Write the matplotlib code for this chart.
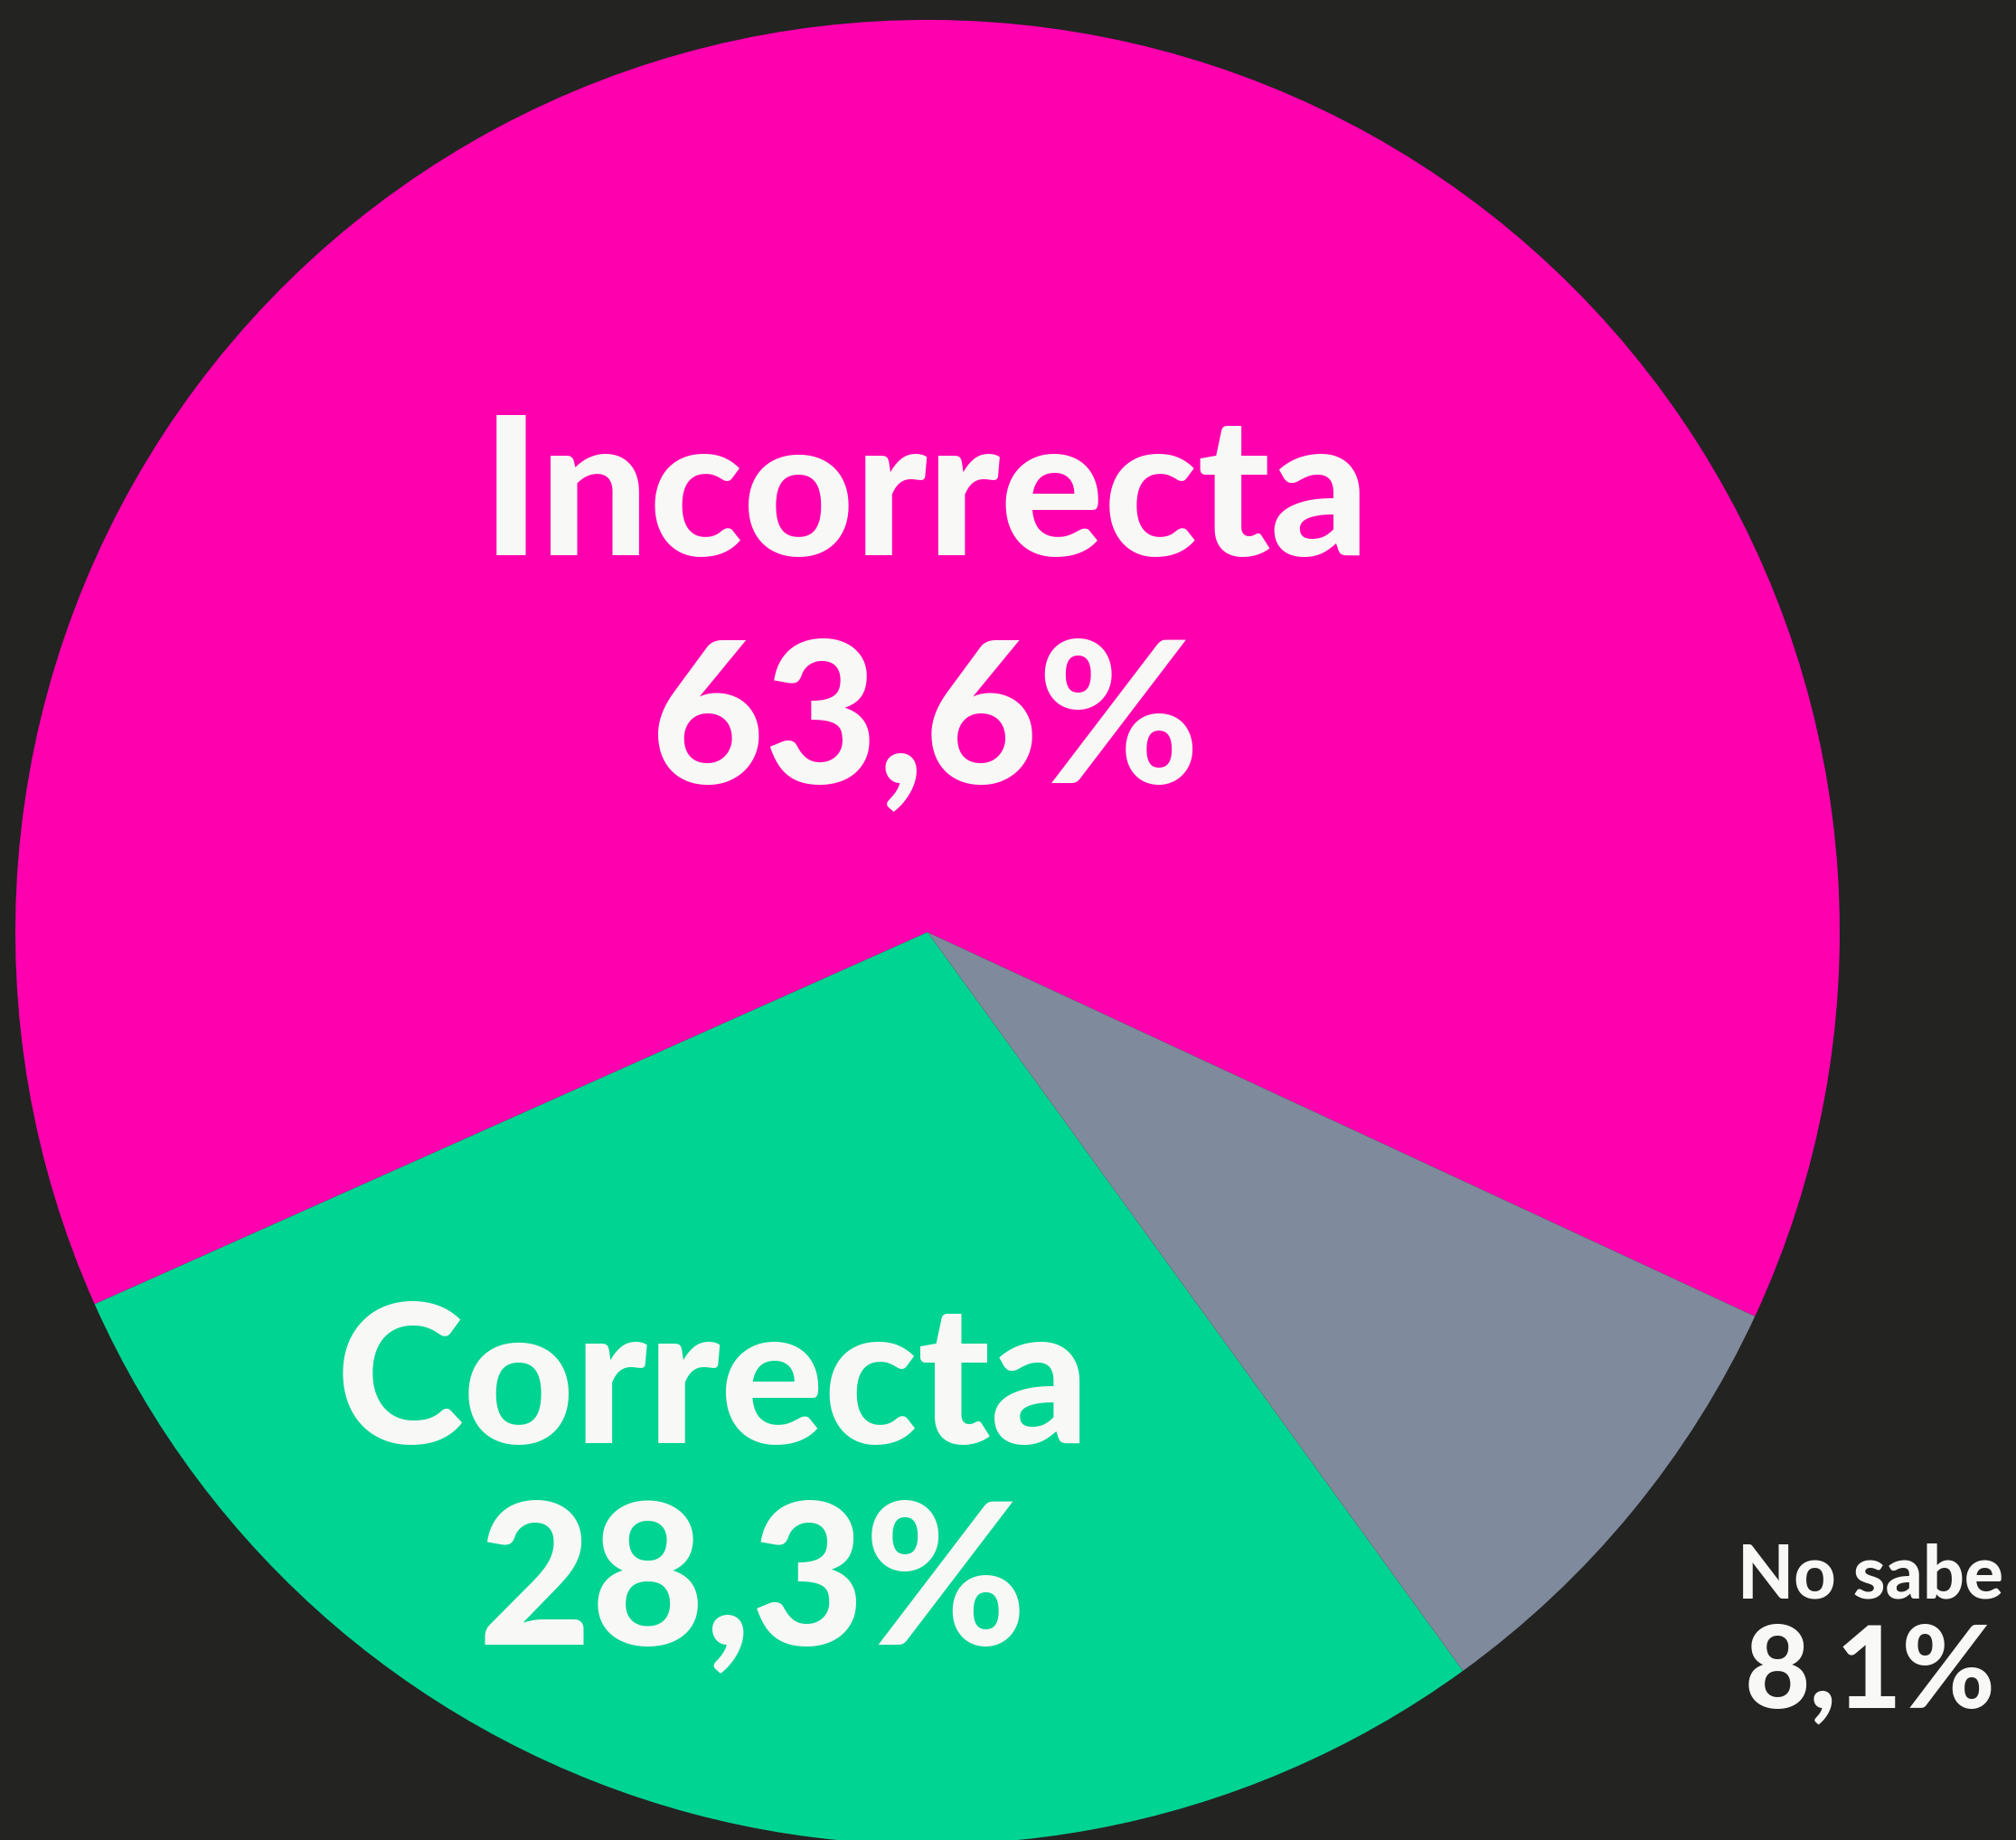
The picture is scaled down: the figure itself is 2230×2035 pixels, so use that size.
import matplotlib
matplotlib.use("Agg")
import matplotlib.pyplot as plt

categories = ["Incorrecta", "Correcta", "No sabe"]
values = [63.6, 28.3, 8.1]
value_labels = ["63,6%", "28,3%", "8,1%"]
colors = ["#FF00AF", "#00D492", "#7F8A9C"]

BG = "#232322"
TXT = "#F8F8F6"
W, H = 2230, 2035

fig = plt.figure(figsize=(W / 100, H / 100), dpi=100, facecolor=BG)
ax = fig.add_axes([0, 0, 1, 1])
ax.set_facecolor(BG)

cx, cy, r = 1026, H - 1031, 1009
ax.pie(values, colors=colors, startangle=-24.9, counterclock=True,
       center=(cx, cy), radius=r, wedgeprops=dict(linewidth=0), frame=True)
ax.set_xlim(0, W)
ax.set_ylim(0, H)
ax.set_aspect("equal")
ax.axis("off")

font = dict(family=["Lato", "DejaVu Sans"], weight="black", color=TXT,
            ha="center", va="baseline")
# label positions (pixel coords, top-origin)
pos = [((1024, 614), (1024, 865), 154),
       ((789, 1596), (832, 1818), 154),
       ((2069, 1768), (2069, 1889), 58)]
num_sizes = [156, 156, 90]
for cat, lab, (p1, p2, fs), nfs in zip(categories, value_labels, pos, num_sizes):
    ax.text(p1[0], H - p1[1], cat, fontsize=fs, **font)
    ax.text(p2[0], H - p2[1], lab, fontsize=nfs, **font)

fig.savefig("out.png", dpi=100, facecolor=BG)
